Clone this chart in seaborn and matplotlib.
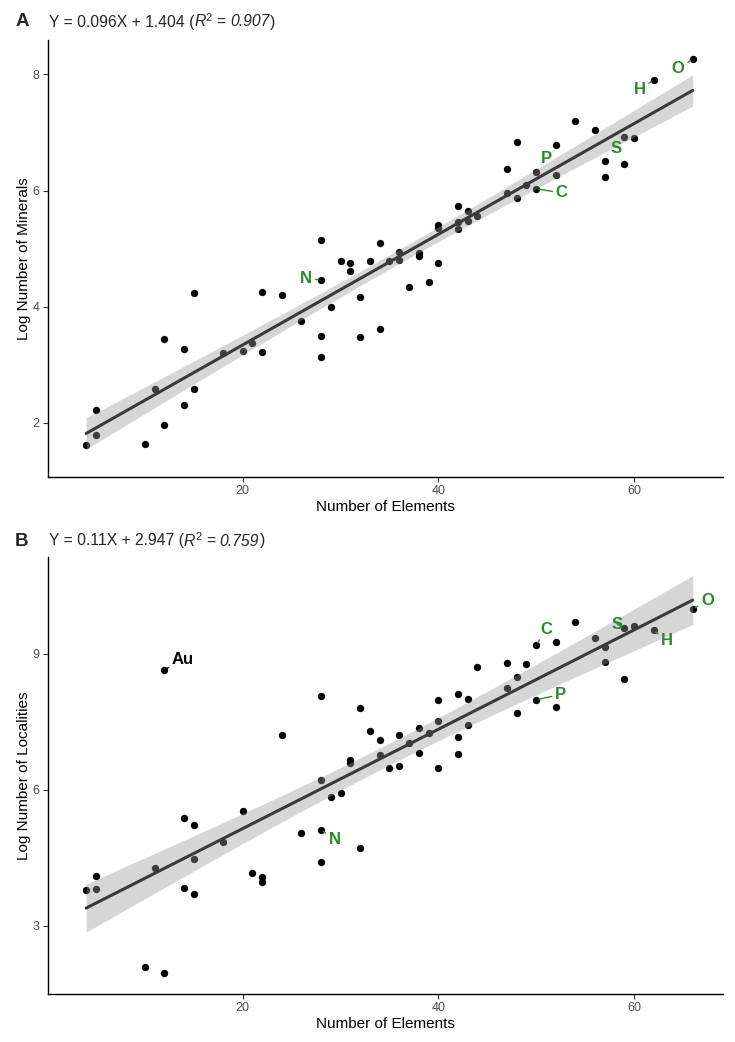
import numpy as np
import pandas as pd
import matplotlib
matplotlib.use("Agg")
import matplotlib.pyplot as plt
import seaborn as sns

# panel A: number of elements vs log number of minerals
elements_a = [4, 5, 5, 10, 11, 12, 12, 14, 14, 15, 15, 18, 20, 21, 22, 22, 24, 26,
              28, 28, 28, 28, 29, 30, 31, 31, 32, 32, 33, 34, 34, 35, 36, 36, 37,
              38, 38, 39, 40, 40, 40, 42, 42, 42, 43, 43, 44, 47, 47, 48, 48, 49,
              50, 50, 52, 52, 54, 56, 57, 57, 59, 59, 60, 62, 66]
log_minerals = [1.62, 2.22, 1.80, 1.63, 2.58, 1.96, 3.45, 3.27, 2.31, 2.58, 4.23,
                3.20, 3.24, 3.38, 3.23, 4.26, 4.21, 3.75, 3.50, 3.14, 4.46, 5.15,
                4.00, 4.78, 4.75, 4.62, 4.17, 3.48, 4.78, 5.09, 3.62, 4.78, 4.95,
                4.81, 4.34, 4.93, 4.88, 4.42, 5.40, 5.36, 4.75, 5.74, 5.45, 5.34,
                5.65, 5.47, 5.56, 6.37, 5.95, 6.83, 5.87, 6.09, 6.32, 6.03, 6.78,
                6.26, 7.19, 7.04, 6.51, 6.23, 6.92, 6.46, 6.90, 7.90, 8.26]

# panel B: number of elements vs log number of localities
elements_b = [4, 5, 5, 10, 11, 12, 12, 14, 14, 15, 15, 15, 18, 20, 21, 22, 22, 24,
              26, 28, 28, 28, 28, 29, 30, 31, 31, 32, 32, 33, 34, 34, 35, 36, 36,
              37, 38, 38, 39, 40, 40, 40, 42, 42, 42, 43, 43, 44, 47, 47, 48, 48,
              49, 50, 50, 52, 52, 54, 56, 57, 57, 59, 59, 60, 62, 66]
log_localities = [3.79, 4.11, 3.81, 2.09, 4.27, 8.64, 1.96, 5.38, 3.84, 5.22, 4.48,
                  3.70, 4.85, 5.54, 4.16, 4.07, 3.96, 7.20, 5.04, 8.06, 6.21, 5.12,
                  4.41, 5.85, 5.92, 6.65, 6.59, 7.80, 4.71, 7.30, 7.10, 6.76, 6.48,
                  6.52, 7.20, 7.02, 7.37, 6.80, 7.24, 7.98, 7.51, 6.48, 8.11, 7.17,
                  6.79, 8.01, 7.43, 8.71, 8.80, 8.25, 8.49, 7.70, 8.77, 9.18, 7.98,
                  9.25, 7.83, 9.69, 9.34, 9.15, 8.82, 9.56, 8.45, 9.60, 9.51, 9.98]

# labelled elements: (label, point x, point y, text x, text y, colour)
GREEN = "#2a8a2a"
labels_a = [("N", 28, 4.46, 26.5, 4.49, GREEN),
            ("P", 50, 6.32, 51.0, 6.55, GREEN),
            ("C", 50, 6.03, 52.6, 5.96, GREEN),
            ("S", 59, 6.92, 58.2, 6.72, GREEN),
            ("H", 62, 7.90, 60.6, 7.74, GREEN),
            ("O", 66, 8.26, 64.5, 8.10, GREEN)]
labels_b = [("Au", 12, 8.64, 13.9, 8.88, "black"),
            ("N", 28, 5.12, 29.4, 4.90, GREEN),
            ("C", 50, 9.18, 51.0, 9.54, GREEN),
            ("P", 50, 7.98, 52.5, 8.10, GREEN),
            ("S", 59, 9.56, 58.3, 9.65, GREEN),
            ("H", 62, 9.51, 63.4, 9.28, GREEN),
            ("O", 66, 9.98, 67.5, 10.17, GREEN)]

sns.set_style("white")
plt.rcParams["font.family"] = ["Liberation Sans", "DejaVu Sans"]

W, H = 735, 1042
fig = plt.figure(figsize=(W / 100, H / 100), dpi=100)
ax_a = fig.add_axes([0.0653, 0.5422, 0.9184, 0.4194])
ax_b = fig.add_axes([0.0653, 0.0461, 0.9184, 0.4194])


def draw_panel(ax, x, y, ylabel, labels, ylim, yticks):
    df = pd.DataFrame({"x": x, "y": y})
    sns.scatterplot(data=df, x="x", y="y", ax=ax, color="black", s=28,
                    linewidth=0, zorder=2, legend=False)
    sns.regplot(data=df, x="x", y="y", ax=ax, scatter=False, ci=None,
                color="#3a3a3a", line_kws={"linewidth": 2.2, "zorder": 4})

    # 95% confidence band of the fitted mean (as geom_smooth draws it)
    xv = df["x"].to_numpy(float)
    yv = df["y"].to_numpy(float)
    n = len(xv)
    slope, icpt = np.polyfit(xv, yv, 1)
    resid = yv - (slope * xv + icpt)
    s = np.sqrt((resid ** 2).sum() / (n - 2))
    sxx = ((xv - xv.mean()) ** 2).sum()
    grid = np.linspace(xv.min(), xv.max(), 100)
    se = s * np.sqrt(1 / n + (grid - xv.mean()) ** 2 / sxx)
    fit = slope * grid + icpt
    ax.fill_between(grid, fit - 1.998 * se, fit + 1.998 * se,
                    facecolor="#999999", alpha=0.4, linewidth=0, zorder=3)

    for name, px, py, tx, ty, col in labels:
        ax.annotate(name, xy=(px, py), xytext=(tx, ty), ha="center", va="center",
                    fontsize=12, fontweight="bold", color=col, zorder=5,
                    arrowprops=dict(arrowstyle="-", color=col, lw=1.0,
                                    shrinkA=0, shrinkB=2))

    ax.set_xlim(0.1, 69.1)
    ax.set_ylim(*ylim)
    ax.set_xticks([20, 40, 60])
    ax.set_yticks(yticks)
    ax.set_xlabel("Number of Elements", fontsize=11, color="black", labelpad=2)
    ax.set_ylabel(ylabel, fontsize=11, color="black", labelpad=1)
    ax.tick_params(axis="both", labelsize=9, labelcolor="#4d4d4d", color="#333333",
                   length=3.5, width=0.8, direction="out", bottom=True, left=True,
                   pad=2.5)
    sns.despine(ax=ax)
    for sp in ["left", "bottom"]:
        ax.spines[sp].set_color("black")
        ax.spines[sp].set_linewidth(1.0)


renderer = fig.canvas.get_renderer()


def panel_title(letter, eq, r2, base_px):
    # base_px: baseline of the title, pixels from the top
    yb = 1 - base_px / H
    fig.text(22 / W, yb, letter, fontsize=13.5, fontweight="bold",
             ha="center", va="baseline")
    fs = 11.3
    space = 0.278 * fs * 100 / 72
    pieces = [(eq + " (", fs, "normal", 0, 0),
              ("R", fs, "italic", 0, 0),
              ("2", 8, "normal", 0, 5.5),
              ("=", fs, "normal", space, 0),
              (r2, fs, "italic", space, 0),
              (")", fs, "normal", 0.8, 0)]
    xpix = 49
    for txt, size, style, gap, rise in pieces:
        xpix += gap
        t = fig.text(xpix / W, yb + rise / H, txt, fontsize=size, style=style,
                     ha="left", va="baseline")
        xpix += t.get_window_extent(renderer).width


draw_panel(ax_a, elements_a, log_minerals, "Log Number of Minerals", labels_a,
           (1.07, 8.59), [2, 4, 6, 8])
draw_panel(ax_b, elements_b, log_localities, "Log Number of Localities", labels_b,
           (1.50, 11.13), [3, 6, 9])

panel_title("A", "Y = 0.096X + 1.404", "0.907", 26.5)
panel_title("B", "Y = 0.11X + 2.947", "0.759", 545.5)

fig.savefig("out.png", dpi=100)
